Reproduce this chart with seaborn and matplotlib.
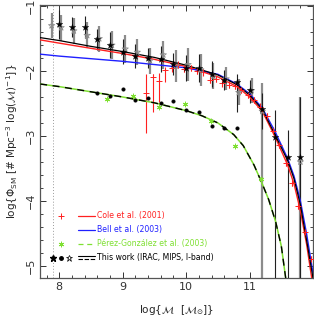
import numpy as np
import pandas as pd
import matplotlib
matplotlib.use("Agg")
import matplotlib.pyplot as plt
from matplotlib.ticker import MultipleLocator
import seaborn as sns

# ---------------- data ----------------
# Schechter fits (sampled read-off points)
curve_x_black = [7.7, 8.0, 8.5, 9.0, 9.5, 10.0, 10.5, 10.8, 11.0, 11.2, 11.4, 11.6, 11.7, 11.8, 11.9, 11.98, 12.0]
curve_y_black = [-1.485, -1.53, -1.62, -1.70, -1.79, -1.91, -2.06, -2.21, -2.37, -2.59, -2.98, -3.38, -3.66, -4.06, -4.62, -5.08, -5.2]

curve_x_red = [7.7, 8.0, 8.5, 9.0, 9.5, 10.0, 10.5, 10.8, 11.0, 11.2, 11.4, 11.6, 11.7, 11.8, 11.9, 11.98]
curve_y_red = [-1.52, -1.57, -1.65, -1.73, -1.82, -1.93, -2.09, -2.24, -2.40, -2.62, -3.01, -3.45, -3.74, -4.15, -4.68, -5.2]

curve_x_blue = [7.7, 8.0, 8.5, 9.0, 9.5, 10.0, 10.5, 10.8, 11.0, 11.2, 11.4, 11.6, 11.7, 11.8, 11.9, 12.0]
curve_y_blue = [-1.74, -1.77, -1.81, -1.85, -1.90, -1.95, -2.05, -2.20, -2.35, -2.57, -2.93, -3.35, -3.62, -4.00, -4.52, -5.12]

curve_x_green = [7.7, 8.0, 8.5, 9.0, 9.5, 10.0, 10.25, 10.5, 10.75, 10.9, 11.07, 11.2, 11.3, 11.41, 11.5, 11.57]
curve_y_green = [-2.20, -2.24, -2.32, -2.40, -2.49, -2.61, -2.69, -2.80, -2.98, -3.15, -3.45, -3.74, -3.98, -4.32, -4.70, -5.2]

# This work: black filled stars
star_x = [8.0, 8.2, 8.4, 8.6, 8.8, 9.0, 9.2, 9.4, 9.6, 9.8, 10.0, 10.2, 10.4, 10.6, 10.8, 11.0, 11.2, 11.4, 11.6, 11.8]
star_y = [-1.28, -1.32, -1.32, -1.51, -1.60, -1.70, -1.77, -1.80, -1.82, -1.89, -1.96, -1.95, -2.05, -2.14, -2.17, -2.30, -2.59, -3.02, -3.33, -3.33]
star_err_hi = [0.22, 0.16, 0.17, 0.16, 0.20, 0.19, 0.19, 0.16, 0.20, 0.17, 0.20, 0.22, 0.20, 0.15, 0.12, 0.16, 0.25, 0.42, 0.42, 0.93]
star_err_lo = [0.22, 0.16, 0.17, 0.16, 0.20, 0.19, 0.19, 0.16, 0.20, 0.17, 0.20, 0.22, 0.20, 0.15, 0.46, 0.20, 0.30, 3.00, 3.00, 3.00]

# This work: open grey stars
ostar_x = [7.88, 8.03, 8.23, 8.44, 8.63, 8.83, 9.04, 9.23, 9.43, 9.64, 9.84, 10.03, 10.23, 10.43, 10.63, 10.83, 11.03, 11.2, 11.8]
ostar_y = [-1.30, -1.33, -1.38, -1.45, -1.50, -1.60, -1.66, -1.71, -1.84, -1.75, -1.92, -1.90, -1.98, -2.08, -2.12, -2.33, -2.30, -2.62, -3.40]
ostar_err_hi = [0.19, 0.20, 0.20, 0.20, 0.20, 0.22, 0.22, 0.20, 0.20, 0.22, 0.25, 0.25, 0.25, 0.20, 0.18, 0.20, 0.20, 0.43, 1.0]
ostar_err_lo = [0.19, 0.20, 0.20, 0.20, 0.20, 0.22, 0.22, 0.20, 0.20, 0.22, 0.25, 0.25, 0.25, 0.20, 0.18, 0.20, 0.20, 3.00, 3.00]

# This work: black filled circles
dot_x = [8.6, 8.8, 9.0, 9.2, 9.4, 9.6, 9.8, 10.0, 10.2, 10.4, 10.6, 10.8]
dot_y = [-2.335, -2.385, -2.275, -2.445, -2.41, -2.50, -2.465, -2.60, -2.63, -2.84, -2.875, -2.875]

# Cole et al. (2001)
cole_x = [9.37, 9.47, 9.57, 9.67, 9.77, 9.87, 9.97, 10.07, 10.17, 10.27, 10.37, 10.47, 10.57, 10.67,
          10.77, 10.87, 10.97, 11.07, 11.17, 11.27, 11.37, 11.47, 11.57, 11.67, 11.77, 11.87, 11.97]
cole_y = [-2.34, -2.09, -2.15, -1.98, -1.96, -1.90, -1.97, -1.95, -2.00, -2.02, -2.14, -2.12, -2.19, -2.21,
          -2.23, -2.29, -2.37, -2.45, -2.55, -2.70, -2.92, -3.14, -3.42, -3.72, -4.08, -4.48, -4.90]
cole_err_hi = [0.30, 0.05, 0.12, 0.03, 0.05, 0.05, 0.05, 0.05, 0.05, 0.05, 0.05, 0.05, 0.05, 0.05,
               0.05, 0.05, 0.05, 0.05, 0.05, 0.05, 0.05, 0.05, 0.05, 0.05, 0.05, 0.05, 0.05]
cole_err_lo = [0.62, 0.54, 0.32, 0.19, 0.05, 0.05, 0.05, 0.05, 0.05, 0.05, 0.05, 0.05, 0.05, 0.05,
               0.05, 0.05, 0.05, 0.05, 0.05, 0.05, 0.05, 0.05, 0.05, 0.05, 0.05, 0.05, 0.05]

# Pérez-González et al. (2003)
pg_x = [8.76, 9.16, 9.57, 9.98, 10.39, 10.77, 11.18]
pg_y = [-2.43, -2.38, -2.56, -2.51, -2.77, -3.15, -3.66]

legend_labels = ["Cole et al. (2001)", "Bell et al. (2003)",
                 "Pérez-González et al. (2003)", "This work (IRAC, MIPS, I-band)"]
x_ticks = [8, 9, 10, 11]
y_ticks = [-1, -2, -3, -4, -5]

# ---------------- figure ----------------
sns.set_style("ticks")
plt.rcParams['font.family'] = ['DejaVu Sans']
plt.rcParams['mathtext.fontset'] = 'dejavusans'

fig = plt.figure(figsize=(3.14, 3.24), dpi=100)
ax = fig.add_axes([0.126, 0.142, 0.871, 0.843])

RED = '#ff2020'
BLUE = '#1f1fff'
GREEN = '#7fe032'
GREY = '#8c8c8c'

ax.axvline(7.9, color='#9a9a9a', ls=(0, (1, 2)), lw=0.7, zorder=1)

# error bars
ax.errorbar(ostar_x, ostar_y, yerr=[ostar_err_lo, ostar_err_hi], fmt='none',
            ecolor=GREY, elinewidth=1.6, capsize=0, zorder=2)
ax.errorbar(star_x, star_y, yerr=[star_err_lo, star_err_hi], fmt='none',
            ecolor='#202020', elinewidth=0.8, capsize=0, zorder=3)
ax.errorbar(cole_x, cole_y, yerr=[cole_err_lo, cole_err_hi], fmt='none',
            ecolor=RED, elinewidth=0.8, capsize=0, zorder=3)

# curves
sns.lineplot(x=curve_x_red, y=curve_y_red, color=RED, lw=1.0, ax=ax, sort=False, zorder=4)
sns.lineplot(x=curve_x_blue, y=curve_y_blue, color=BLUE, lw=1.0, ax=ax, sort=False, zorder=4)
sns.lineplot(x=curve_x_black, y=curve_y_black, color='black', lw=0.9, ax=ax, sort=False, zorder=4)
sns.lineplot(x=curve_x_green, y=curve_y_green, color=GREEN, lw=1.1, ax=ax, sort=False, zorder=4)
ax.plot(curve_x_green, curve_y_green, color='black', lw=1.0, ls=(0, (5, 4)), zorder=5)

# points
sns.scatterplot(x=cole_x, y=cole_y, marker='+', color=RED, s=22, linewidth=0.7, ax=ax, zorder=6)
ax.scatter(pg_x, pg_y, marker=(6, 2, 0), color=GREEN, s=12, linewidths=0.7, zorder=6)
ax.scatter(ostar_x, ostar_y, marker='*', facecolors='none', edgecolors=GREY, s=22, linewidths=0.6, zorder=6)
sns.scatterplot(x=star_x, y=star_y, marker='*', color='black', s=26, edgecolor='black', linewidth=0.2, ax=ax, zorder=7)
sns.scatterplot(x=dot_x, y=dot_y, marker='o', color='black', s=7, edgecolor='black', linewidth=0.2, ax=ax, zorder=7)

# axes
ax.set_xlim(7.69, 12.0)
ax.set_ylim(-5.19, -0.98)
ax.set_xticks(x_ticks)
ax.set_yticks(y_ticks)
ax.xaxis.set_minor_locator(MultipleLocator(0.2))
ax.yaxis.set_minor_locator(MultipleLocator(0.2))
ax.tick_params(which='major', direction='in', length=4.5, width=0.7, top=True, right=True,
               labelsize=8, colors='#333333', pad=3)
ax.tick_params(which='minor', direction='in', length=2.5, width=0.6, top=True, right=True)
for lab in ax.get_yticklabels():
    lab.set_rotation(90)
    lab.set_va('center')
for sp in ax.spines.values():
    sp.set_color('#555555')
    sp.set_linewidth(0.9)

ax.set_xlabel(r'log{$\mathcal{M}$  [$\mathcal{M}_{\odot}$]}', fontsize=7.5, labelpad=8)
ax.set_ylabel(r'log{$\Phi_{\rm SM}$ [# Mpc$^{-3}$ log($\mathcal{M}$)$^{-1}$]}', fontsize=7.5, labelpad=4)

# legend (manual)
tr = ax.transAxes
rows = [0.227, 0.176, 0.125, 0.074]
cols = [RED, BLUE, GREEN, 'black']
for yy, lab, c in zip(rows, legend_labels, cols):
    ax.text(0.209, yy, lab, color=c, fontsize=5.6, va='center', ha='left', transform=tr)
ax.plot([0.140, 0.203], [rows[0], rows[0]], color=RED, lw=0.9, transform=tr)
ax.plot([0.079], [rows[0]], marker='+', color=RED, ms=5, mew=0.7, transform=tr, ls='none')
ax.plot([0.140, 0.203], [rows[1], rows[1]], color=BLUE, lw=0.9, transform=tr)
ax.plot([0.140, 0.203], [rows[2], rows[2]], color=GREEN, lw=0.9, ls=(0, (4, 3)), transform=tr)
ax.plot([0.079], [rows[2]], marker=(6, 2, 0), color=GREEN, ms=4, mew=0.6, transform=tr, ls='none')
ax.plot([0.140, 0.203], [rows[3] + 0.006, rows[3] + 0.006], color='black', lw=0.8, transform=tr)
ax.plot([0.140, 0.203], [rows[3] - 0.004, rows[3] - 0.004], color='black', lw=0.8, ls=(0, (4, 1.5)), transform=tr)
ax.plot([0.050], [rows[3]], marker='*', color='black', ms=5, transform=tr, ls='none')
ax.plot([0.079], [rows[3]], marker='o', color='black', ms=2.5, transform=tr, ls='none')
ax.plot([0.108], [rows[3]], marker='*', mfc='none', mec='black', mew=0.5, ms=5, transform=tr, ls='none')

fig.savefig('out.png', dpi=100)
